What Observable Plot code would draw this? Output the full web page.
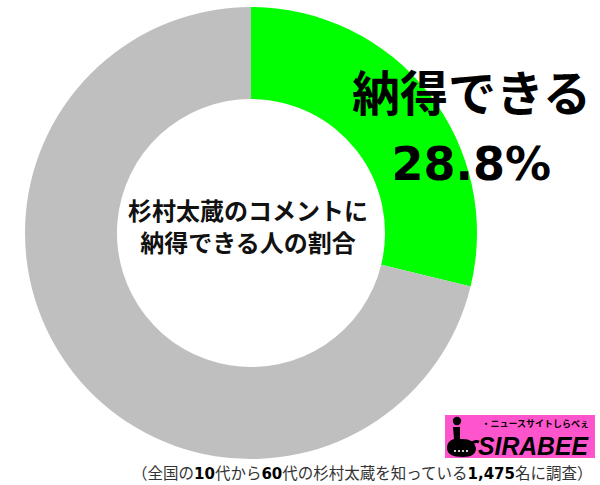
<!DOCTYPE html>
<html><head><meta charset="utf-8">
<script src="https://cdn.jsdelivr.net/npm/d3@7"></script>
<script src="https://cdn.jsdelivr.net/npm/@observablehq/plot@0.6"></script>
<style>
body{margin:0;background:#fff;}
#wrap{position:relative;width:600px;height:485px;overflow:hidden;}
#logo{position:absolute;left:445px;top:415px;width:150px;height:50px;}
#logo svg{display:block;}
</style></head>
<body><div id="wrap"></div>
<script>
const categories = ["納得できる", "その他"];
const values = [28.8, 71.2];
const colors = ["#00ff00", "#bfbfbf"];
const centerLines = ["杉村太蔵のコメントに", "納得できる人の割合"];
const labelName = "納得できる";
const labelValue = "28.8%";
const caption = "（全国の10代から60代の杉村太蔵を知っている1,475名に調査）";

const data = categories.map((c, i) => ({category: c, value: values[i]}));
const innerRatio = 0.593;

function donut(index, scales) {
  const cx = scales.x(0), cy = scales.y(0);
  const R = scales.x(1) - cx;
  const arcs = d3.pie().sort(null).value(d => d.value)(data);
  const arc = d3.arc().innerRadius(R * innerRatio).outerRadius(R);
  const g = d3.create("svg:g").attr("transform", `translate(${cx},${cy})`);
  g.selectAll("path").data(arcs).join("path")
    .attr("d", arc)
    .attr("fill", d => scales.color(d.data.category));
  return g.node();
}

const plot = Plot.plot({
  width: 600, height: 485,
  margin: 0,
  x: {domain: [-1, 1], range: [25, 477], axis: null},
  y: {domain: [-1, 1], range: [459, 7], axis: null},
  color: {domain: categories, range: colors},
  style: {background: "#fff", overflow: "visible"},
  marks: [
    donut,
    Plot.text(centerLines, {
      x: () => -0.015, y: (d, i) => [0.093, -0.049][i], text: d => d,
      fontSize: 24, fontWeight: "bold", fill: "#111",
      fontFamily: "'Noto Sans CJK JP', sans-serif"
    }),
    Plot.text([labelName], {
      x: () => 0.973, y: () => 0.61, text: d => d,
      fontSize: 48, fontWeight: "bold", fill: "#000",
      fontFamily: "'Noto Sans CJK JP', sans-serif"
    }),
    Plot.text([labelValue], {
      x: () => 0.973, y: () => 0.30, text: d => d,
      fontSize: 46, fontWeight: "bold", fill: "#000",
      fontFamily: "'DejaVu Sans', sans-serif"
    }),
    Plot.text([caption], {
      frameAnchor: "bottom-right", text: d => d, dx: -8, dy: -7,
      textAnchor: "end", lineAnchor: "bottom",
      fontSize: 15.5, fill: "#333",
      fontFamily: "'Noto Sans CJK JP', sans-serif",
      className: "cap"
    })
  ]
});

// bold digits in caption
d3.select(plot).selectAll(".cap text").each(function() {
  const t = d3.select(this);
  const s = t.text();
  t.text(null);
  s.split(/([0-9,]+)/).filter(p => p.length).forEach(p => {
    const sp = t.append("tspan").text(p);
    if (/^[0-9,]+$/.test(p)) sp.attr("font-weight", "bold").attr("fill", "#000")
      .attr("font-family", "'DejaVu Sans', sans-serif").attr("font-size", 15);
  });
});

const wrap = document.getElementById("wrap");
wrap.appendChild(plot);

// logo
const logo = document.createElement("div");
logo.id = "logo";
logo.innerHTML = `<svg width="150" height="50" viewBox="0 0 150 50">
  <rect x="0" y="0" width="150" height="43" fill="#ff55cc"/>
  <circle cx="12" cy="6" r="4.2" fill="#000"/>
  <path d="M8 12 L15 12 L15 24 Q29 23 31 33 Q31 42 18 42 Q2 42 2 33 Q2 26 9 24 Z" fill="#000"/>
  <path d="M24 30 Q30 25 34 27" stroke="#000" stroke-width="3" fill="none"/>
  <circle cx="10" cy="36" r="1.1" fill="#fff"/><circle cx="14" cy="36" r="1.1" fill="#fff"/><circle cx="18" cy="36" r="1.1" fill="#fff"/><circle cx="22" cy="36" r="1.1" fill="#fff"/>
  <text x="144" y="12" text-anchor="end" font-size="9" font-weight="bold" font-family="'Noto Sans CJK JP', sans-serif" fill="#000">・ニュースサイトしらべぇ</text>
  <text x="143" y="40" text-anchor="end" font-size="26" font-weight="900" font-style="italic" font-family="'Liberation Sans', Arial, sans-serif" fill="#000" textLength="110" lengthAdjust="spacingAndGlyphs">SIRABEE</text>
</svg>`;
wrap.appendChild(logo);
</script></body></html>
